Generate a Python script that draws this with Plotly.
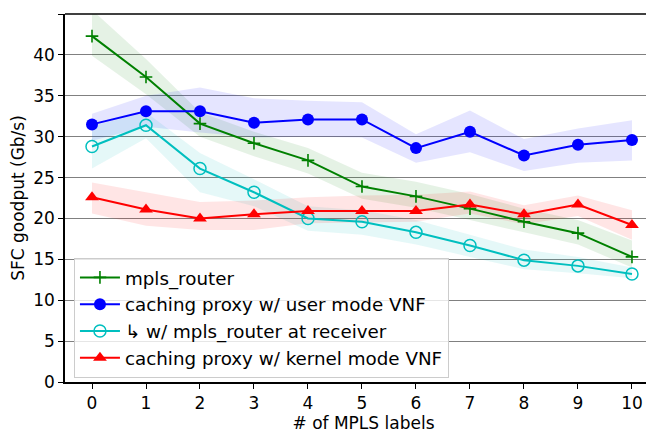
import plotly.graph_objects as go

x = list(range(11))

mpls_router = [42.3, 37.3, 31.6, 29.2, 27.1, 23.9, 22.7, 21.2, 19.6, 18.2, 15.3]
mpls_router_hi = [45.5, 39.5, 33.0, 30.6, 28.6, 25.6, 24.5, 23.0, 21.2, 19.8, 17.3]
mpls_router_lo = [39.9, 35.2, 30.0, 27.6, 25.5, 22.4, 21.3, 19.8, 18.3, 16.8, 14.0]

user_vnf = [31.5, 33.1, 33.1, 31.7, 32.1, 32.1, 28.6, 30.6, 27.7, 29.0, 29.6]
user_vnf_hi = [32.8, 35.0, 36.0, 34.7, 34.4, 34.2, 30.3, 33.2, 29.7, 31.0, 32.0]
user_vnf_lo = [29.5, 31.2, 30.5, 29.9, 30.0, 29.9, 26.8, 28.1, 25.8, 26.8, 27.1]

receiver = [28.8, 31.4, 26.1, 23.2, 20.0, 19.6, 18.3, 16.7, 14.9, 14.2, 13.2]
receiver_hi = [31.3, 33.0, 28.0, 24.8, 21.5, 21.0, 19.8, 18.0, 16.2, 15.3, 14.0]
receiver_lo = [26.1, 29.8, 23.2, 21.5, 18.5, 18.0, 16.8, 15.3, 13.8, 13.3, 12.7]

kernel_vnf = [22.6, 21.1, 20.0, 20.5, 20.9, 20.9, 20.9, 21.7, 20.5, 21.7, 19.2]
kernel_vnf_hi = [24.4, 23.2, 22.0, 22.2, 22.6, 22.8, 22.9, 23.3, 21.6, 22.8, 21.0]
kernel_vnf_lo = [20.6, 19.1, 18.6, 18.6, 19.4, 19.5, 19.6, 20.6, 19.3, 20.3, 17.4]

series_names = ["mpls_router", "caching proxy w/ user mode VNF",
                "↳ w/ mpls_router at receiver", "caching proxy w/ kernel mode VNF"]
y_ticks = [0, 5, 10, 15, 20, 25, 30, 35, 40, 45]

series = [
    (series_names[0], mpls_router, mpls_router_hi, mpls_router_lo, "#008000",
     dict(symbol="cross-thin", size=9, line=dict(width=1.6, color="#008000"))),
    (series_names[1], user_vnf, user_vnf_hi, user_vnf_lo, "#0000ff",
     dict(symbol="circle", size=12, color="#0000ff")),
    (series_names[2], receiver, receiver_hi, receiver_lo, "#00bfbf",
     dict(symbol="circle-open", size=12, color="#00bfbf", line=dict(width=1.5))),
    (series_names[3], kernel_vnf, kernel_vnf_hi, kernel_vnf_lo, "#ff0000",
     dict(symbol="triangle-up", size=12, color="#ff0000")),
]

fill_rgba = {"#008000": "rgba(0,128,0,0.1)", "#0000ff": "rgba(0,0,255,0.1)",
             "#00bfbf": "rgba(0,191,191,0.1)", "#ff0000": "rgba(255,0,0,0.1)"}

fig = go.Figure()

for name, y, hi, lo, color, marker in series:
    fig.add_trace(go.Scatter(
        x=x + x[::-1], y=hi + lo[::-1], fill="toself", mode="none",
        fillcolor=fill_rgba[color], showlegend=False, hoverinfo="skip"))

for name, y, hi, lo, color, marker in series:
    fig.add_trace(go.Scatter(
        x=x, y=y, mode="lines+markers", name=name,
        line=dict(color=color, width=2), marker=marker))

fig.update_layout(
    width=654, height=435,
    margin=dict(l=57, r=0, t=6, b=61, autoexpand=False),
    plot_bgcolor="white", paper_bgcolor="white",
    font=dict(family="DejaVu Sans", size=18, color="black"),
    showlegend=True,
    legend=dict(
        x=0.015, y=0.337, xanchor="left", yanchor="top",
        bgcolor="rgba(255,255,255,0.8)", bordercolor="#cccccc", borderwidth=1,
        font=dict(size=18.3), itemwidth=40,
    ),
)

fig.update_xaxes(
    range=[-0.5, 10.556], tickmode="array", tickvals=x,
    ticktext=[str(v) for v in x],
    ticks="outside", ticklen=5, tickwidth=1, tickcolor="black",
    tickfont=dict(size=17),
    showgrid=False, zeroline=False, automargin=False,
    showline=True, linecolor="black", linewidth=1.5,
    title=dict(text="# of MPLS labels", font=dict(size=17), standoff=4),
)
fig.update_yaxes(
    range=[0, 45], tickmode="array", tickvals=y_ticks,
    ticks="outside", ticklen=5, tickwidth=1, tickcolor="black",
    tickfont=dict(size=17),
    showgrid=True, gridcolor="#808080", gridwidth=1.2, zeroline=False,
    automargin=False,
    showline=True, linecolor="black", linewidth=1.5,
    title=dict(text="SFC goodput (Gb/s)", font=dict(size=17), standoff=6),
)

fig.add_shape(type="line", xref="paper", yref="paper", x0=0, x1=1, y0=1, y1=1,
              line=dict(color="black", width=1.5))

fig.write_html("out.html")
